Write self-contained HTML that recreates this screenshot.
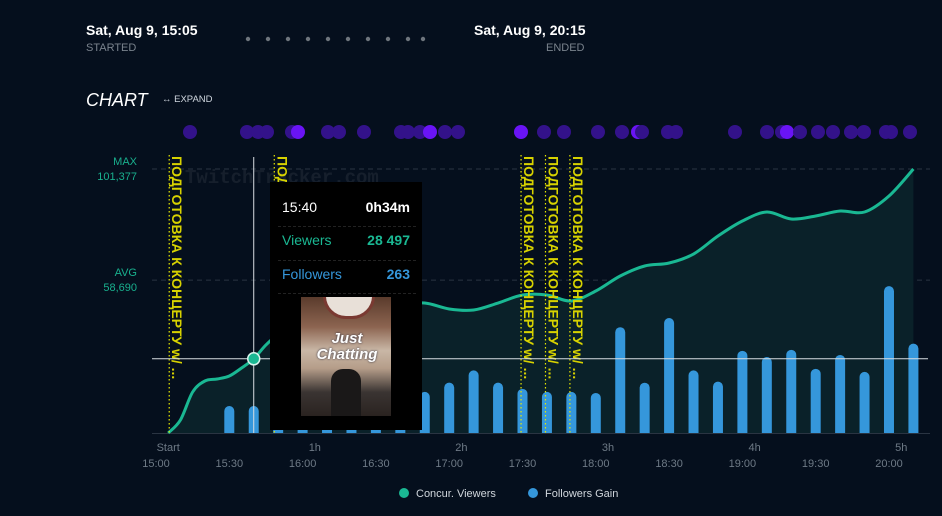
<!DOCTYPE html>
<html><head><meta charset="utf-8">
<style>
html,body{margin:0;padding:0;background:#050f1d;}
body{width:942px;height:516px;overflow:hidden;position:relative;font-family:"Liberation Sans","Noto Sans CJK SC",sans-serif;}
.t{position:absolute;white-space:nowrap;}
</style></head>
<body>
<div class="t" style="left:86px;top:22px;color:#fff;font-weight:bold;font-size:14px;">Sat, Aug 9, 15:05</div>
<div class="t" style="left:86px;top:42px;color:#7a838d;font-size:11px;">STARTED</div>
<div class="t" style="left:474px;top:22px;color:#fff;font-weight:bold;font-size:14px;">Sat, Aug 9, 20:15</div>
<div class="t" style="left:546px;top:42px;color:#7a838d;font-size:11px;">ENDED</div>
<div class="t" style="left:86px;top:90px;color:#fff;font-style:italic;font-size:18px;">CHART</div>
<div class="t" style="left:162px;top:94px;color:#cfd6de;font-size:9.5px;">↔ EXPAND</div>
<svg id="c" width="942" height="516" style="position:absolute;left:0;top:0"></svg>
<script>
const times=[5,10,15,20,25,30,35,40,45,50,60,70,80,90,100,110,120,130,140,150,160,170,180,190,200,210,220,230,240,250,260,270,280,290,300,310];
const viewers=[0,5000,15740,19970,20740,21890,24960,28497,33800,37630,41470,44160,46470,48000,49150,49920,47620,47240,49920,52990,52990,50690,54530,60290,64130,65280,68740,75650,81410,84870,82180,83330,85250,84870,91010,101377];
const barTimes=[30,40,50,60,70,80,90,100,110,120,130,140,150,160,170,180,190,200,210,220,230,240,250,260,270,280,290,300,310];
const followers=[263,263,230,210,240,260,280,300,400,490,610,490,430,400,400,390,1030,490,1120,610,500,800,740,810,625,760,595,1430,870];
const xTicks=[0,30,60,90,120,150,180,210,240,270,300];
const xLabels=["15:00","15:30","16:00","16:30","17:00","17:30","18:00","18:30","19:00","19:30","20:00"];
const hTicks=[5,65,125,185,245,305];
const hLabels=["Start","1h","2h","3h","4h","5h"];
const annoTimes=[5,48,149,159,169];
const dotX=[190,247,258,267,292,298,328,339,364,401,408,420,430,445,458,521,544,564,598,622,638,642,668,676,735,767,782,787,800,818,833,851,864,886,891,910];
const dotBright=[0,0,0,0,0,1,0,0,0,0,0,0,1,0,0,1,0,0,0,0,1,0,0,0,0,0,0,1,0,0,0,0,0,0,0,0];
</script>
<script>
const svg=document.getElementById('c');const NS='http://www.w3.org/2000/svg';
const X=t=>156+t*2.4433;const YV=v=>433-v*0.002604;const YB=v=>433-v*0.1027;
function mk(tag,attrs,parent){const e=document.createElementNS(NS,tag);for(const k in attrs)e.setAttribute(k,attrs[k]);(parent||svg).appendChild(e);return e;}
let w=mk('text',{x:185,y:183,fill:'rgba(255,255,255,0.07)','font-size':19,'font-family':'Liberation Mono, monospace','font-weight':'bold'});w.textContent='TwitchTracker.com';


[[101377,'MAX','101,377'],[58690,'AVG','58,690']].forEach(g=>{
 let l=mk('line',{x1:152,x2:930,y1:YV(g[0]),y2:YV(g[0]),stroke:'#2a3442','stroke-dasharray':'5,4'});
 
 
 let a=mk('text',{x:137,y:YV(g[0])-4,fill:'#19b08e','font-size':11,'text-anchor':'end'});a.textContent=g[1];
 
 
 let b=mk('text',{x:137,y:YV(g[0])+11,fill:'#19b08e','font-size':11,'text-anchor':'end'});b.textContent=g[2];
 
 
});
let bl=mk('line',{x1:152,x2:930,y1:433.5,y2:433.5,stroke:'#2a3442'});


const pts=times.map((t,i)=>[X(t),YV(viewers[i])]);
let d='M'+pts[0][0]+','+pts[0][1];
for(let i=0;i<pts.length-1;i++){const p0=pts[i-1]||pts[i],p1=pts[i],p2=pts[i+1],p3=pts[i+2]||p2;
 d+=` C${p1[0]+(p2[0]-p0[0])/6},${p1[1]+(p2[1]-p0[1])/6} ${p2[0]-(p3[0]-p1[0])/6},${p2[1]-(p3[1]-p1[1])/6} ${p2[0]},${p2[1]}`;}
let area=mk('path',{d:d+` L${pts[pts.length-1][0]},433 L${pts[0][0]},433 Z`,fill:'#0a2129'});


barTimes.forEach((t,i)=>{
 let r=mk('path',{d:`M${X(t)-5},433 V${YB(followers[i])+5} a5,5 0 0 1 10,0 V433 Z`,fill:'#3597db'});
 
 });
let line=mk('path',{d:d,fill:'none',stroke:'#1ab893','stroke-width':3});


annoTimes.forEach((t,i)=>{const x=X(t)+1;
 let l=mk('line',{x1:x,x2:x,y1:155,y2:433,stroke:'#e8e800','stroke-dasharray':'1.5,2.5','stroke-width':1.2});
 
 
 let tx=mk('text',{x:0,y:0,fill:'#d7d200','font-size':14,'font-weight':'bold',transform:`translate(${x+3},156) rotate(90)`});tx.textContent='ПОДГОТОВКА К КОНЦЕРТУ w/ ...';
 
 });
dotX.forEach((x,i)=>{let c=mk('circle',{cx:x,cy:132,r:7,fill:dotBright[i]?'#6a14f5':'#33128a'});
 
 });
[248,268,288,308,328,348,368,388,408,423].forEach(x=>{let c=mk('circle',{cx:x,cy:39,r:2.2,fill:'#6e757d'});
 
 });
xTicks.forEach((t,i)=>{let tx=mk('text',{x:X(t),y:467,fill:'#6e7a86','font-size':11,'text-anchor':'middle'});tx.textContent=xLabels[i];
 
 });
hTicks.forEach((t,i)=>{let tx=mk('text',{x:X(t),y:451,fill:'#6e7a86','font-size':11,'text-anchor':'middle'});tx.textContent=hLabels[i];
 
 });
let vx=X(40);
let ch1=mk('line',{x1:vx,x2:vx,y1:157,y2:433,stroke:'#d8dde2','stroke-width':1});


let ch2=mk('line',{x1:152,x2:928,y1:YV(28497),y2:YV(28497),stroke:'#d8dde2','stroke-width':1});


let hp=mk('circle',{cx:vx,cy:YV(28497),r:6,fill:'#1ab893',stroke:'#d8f5ee','stroke-width':1.5});


let lc1=mk('circle',{cx:404,cy:493,r:5,fill:'#1ab893'});


let lt1=mk('text',{x:416,y:497,fill:'#d0d6dc','font-size':11});lt1.textContent='Concur. Viewers';


let lc2=mk('circle',{cx:533,cy:493,r:5,fill:'#3597db'});


let lt2=mk('text',{x:545,y:497,fill:'#d0d6dc','font-size':11});lt2.textContent='Followers Gain';


</script>
<div style="position:absolute;left:270px;top:182px;width:152px;height:248px;background:#000;">
 <div class="t" style="left:12px;top:17px;color:#fff;font-size:14px;">15:40</div>
 <div class="t" style="right:12px;top:17px;color:#fff;font-size:14px;font-weight:bold;">0h34m</div>
 <div style="position:absolute;left:8px;right:6px;top:44px;border-top:1px dashed #222;"></div>
 <div class="t" style="left:12px;top:50px;color:#1ab893;font-size:14px;">Viewers</div>
 <div class="t" style="right:12px;top:50px;color:#1ab893;font-size:14px;font-weight:bold;">28 497</div>
 <div style="position:absolute;left:8px;right:6px;top:78px;border-top:1px dashed #222;"></div>
 <div class="t" style="left:12px;top:84px;color:#3597db;font-size:14px;">Followers</div>
 <div class="t" style="right:12px;top:84px;color:#3597db;font-size:14px;font-weight:bold;">263</div>
 <div style="position:absolute;left:8px;right:6px;top:111px;border-top:1px dashed #222;"></div>
 <div style="position:absolute;left:31px;top:115px;width:90px;height:119px;overflow:hidden;background:linear-gradient(180deg,#5a3b2c 0%,#8c6450 25%,#c9b7a6 45%,#b59d89 60%,#3a3432 80%,#2a2320 100%);">
  <div style="position:absolute;left:22px;top:-6px;width:46px;height:22px;border-radius:0 0 23px 23px;background:#e8e0d8;border:3px solid #7a3a32;"></div>
  <div style="position:absolute;left:30px;top:72px;width:30px;height:47px;border-radius:12px 12px 0 0;background:#1a1818;"></div>
  <div class="t" style="left:8px;top:34px;width:76px;text-align:center;color:#fff;font-size:15px;font-style:italic;font-weight:bold;line-height:16px;text-shadow:0 0 2px #223;white-space:normal;">Just Chatting</div>
 </div>
</div>
</body></html>
